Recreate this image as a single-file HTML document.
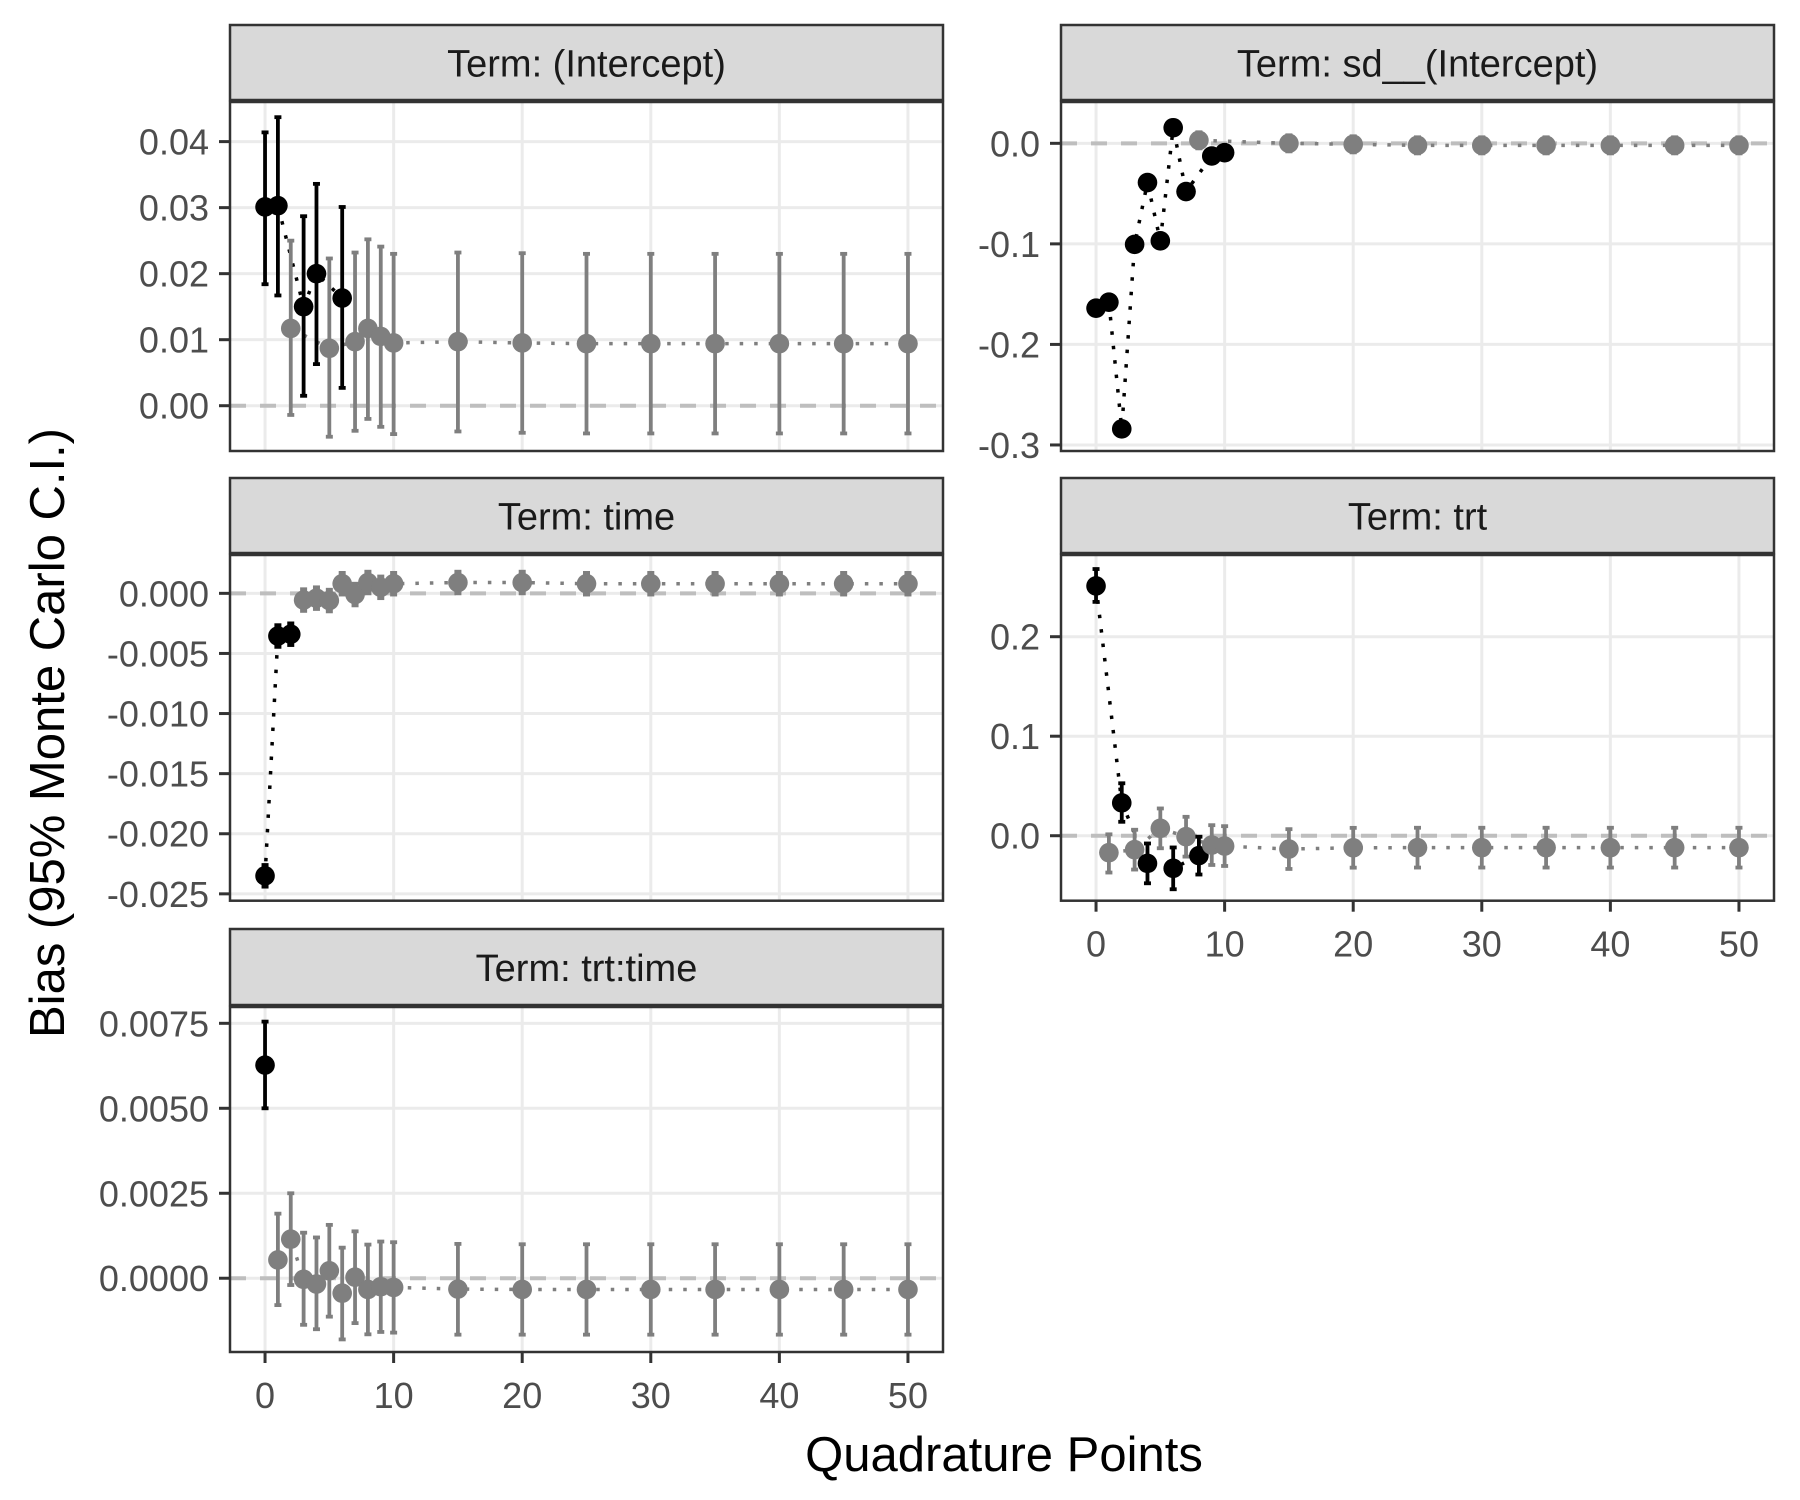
<!DOCTYPE html>
<html><head><meta charset="utf-8">
<style>
html,body{margin:0;padding:0;background:#fff;}
svg{display:block;font-family:"Liberation Sans",Arial,sans-serif;}
</style></head>
<body>
<svg id="chart" width="1800" height="1500" viewBox="0 0 1800 1500">
<text x="1004" y="1471" font-size="49" text-anchor="middle" fill="#000">Quadrature Points</text>
<text transform="translate(64,733) rotate(-90)" font-size="49" text-anchor="middle" fill="#000">Bias (95% Monte Carlo C.I.)</text>
</svg>
<script>
const xPoints = [0,1,2,3,4,5,6,7,8,9,10,15,20,25,30,35,40,45,50];
const xTicks = [0,10,20,30,40,50];

const interceptEst = [0.0301,0.0303,0.0117,0.0150,0.0200,0.0087,0.0163,0.0097,0.0117,0.0105,0.0095,0.0097,0.0095,0.0094,0.0094,0.0094,0.0094,0.0094,0.0094];
const interceptLo  = [0.0184,0.0167,-0.0014,0.0015,0.0063,-0.0047,0.0027,-0.0038,-0.0020,-0.0032,-0.0043,-0.0039,-0.0041,-0.0042,-0.0042,-0.0042,-0.0042,-0.0042,-0.0042];
const interceptHi  = [0.0414,0.0437,0.0250,0.0287,0.0336,0.0223,0.0301,0.0232,0.0252,0.0241,0.0230,0.0232,0.0231,0.0230,0.0230,0.0230,0.0230,0.0230,0.0230];
const interceptTicks = [0.00,0.01,0.02,0.03,0.04];
const interceptTickLabels = ["0.00","0.01","0.02","0.03","0.04"];

const sdEst = [-0.164,-0.158,-0.284,-0.1005,-0.039,-0.097,0.0155,-0.048,0.003,-0.0126,-0.0093,0.000,-0.001,-0.002,-0.002,-0.002,-0.002,-0.002,-0.002];
const sdLo  = [-0.169,-0.163,-0.289,-0.1055,-0.044,-0.102,0.0105,-0.053,-0.005,-0.0176,-0.0143,-0.008,-0.009,-0.010,-0.010,-0.010,-0.010,-0.010,-0.010];
const sdHi  = [-0.159,-0.153,-0.279,-0.0955,-0.034,-0.092,0.0205,-0.043,0.011,-0.0076,-0.0043,0.008,0.007,0.006,0.006,0.006,0.006,0.006,0.006];
const sdTicks = [0.0,-0.1,-0.2,-0.3];
const sdTickLabels = ["0.0","-0.1","-0.2","-0.3"];

const timeEst = [-0.0235,-0.00355,-0.0034,-0.00056,-0.0004,-0.0006,0.0008,-0.0001,0.0009,0.0005,0.0008,0.0009,0.0009,0.0008,0.0008,0.0008,0.0008,0.0008,0.0008];
const timeLo  = [-0.0244,-0.00445,-0.0043,-0.00146,-0.0013,-0.0015,-0.0001,-0.0010,0.0000,-0.0004,-0.0001,0.0000,0.0000,-0.0001,-0.0001,-0.0001,-0.0001,-0.0001,-0.0001];
const timeHi  = [-0.0226,-0.00265,-0.0025,0.00034,0.0005,0.0003,0.0017,0.0008,0.0018,0.0014,0.0017,0.0018,0.0018,0.0017,0.0017,0.0017,0.0017,0.0017,0.0017];
const timeTicks = [0.000,-0.005,-0.010,-0.015,-0.020,-0.025];
const timeTickLabels = ["0.000","-0.005","-0.010","-0.015","-0.020","-0.025"];

const trtEst = [0.251,-0.017,0.033,-0.014,-0.0278,0.0074,-0.0328,-0.001,-0.020,-0.0094,-0.0104,-0.0134,-0.0121,-0.012,-0.012,-0.012,-0.012,-0.012,-0.012];
const trtLo  = [0.235,-0.037,0.014,-0.034,-0.0478,-0.0126,-0.0538,-0.021,-0.039,-0.0294,-0.0304,-0.0334,-0.0321,-0.032,-0.032,-0.032,-0.032,-0.032,-0.032];
const trtHi  = [0.268,0.0014,0.0527,0.006,-0.0078,0.0274,-0.0118,0.019,-0.001,0.0106,0.0096,0.0066,0.0079,0.008,0.008,0.008,0.008,0.008,0.008];
const trtTicks = [0.0,0.1,0.2];
const trtTickLabels = ["0.0","0.1","0.2"];

const ttEst = [0.00627,0.00054,0.00115,-0.00003,-0.00017,0.00022,-0.00044,0.00003,-0.00033,-0.00025,-0.00027,-0.00032,-0.00033,-0.00033,-0.00033,-0.00033,-0.00033,-0.00033,-0.00033];
const ttLo  = [0.00500,-0.00079,-0.00020,-0.00137,-0.00150,-0.00113,-0.00180,-0.00132,-0.00165,-0.00158,-0.00160,-0.00166,-0.00166,-0.00166,-0.00166,-0.00166,-0.00166,-0.00166,-0.00166];
const ttHi  = [0.00755,0.00190,0.00250,0.00134,0.00120,0.00157,0.00090,0.00138,0.00099,0.00108,0.00106,0.00101,0.00100,0.00100,0.00100,0.00100,0.00100,0.00100,0.00100];
const ttTicks = [0.0000,0.0025,0.0050,0.0075];
const ttTickLabels = ["0.0000","0.0025","0.0050","0.0075"];

const NS = "http://www.w3.org/2000/svg";
const svg = document.getElementById("chart");
function mk(tag, attrs, parent){
  const e = document.createElementNS(NS, tag);
  for (const k in attrs) e.setAttribute(k, attrs[k]);
  (parent||svg).appendChild(e);
  return e;
}
const panels = [
  {title:"Term: (Intercept)", key:"intercept", L:230, R:943, T:102, B:451, stripT:25, ymin:-0.00686, ymax:0.046, est:interceptEst, lo:interceptLo, hi:interceptHi, ticks:interceptTicks, labels:interceptTickLabels, xaxis:false},
  {title:"Term: sd__(Intercept)", key:"sd", L:1061, R:1774, T:102, B:451, stripT:25, ymin:-0.306, ymax:0.0411, est:sdEst, lo:sdLo, hi:sdHi, ticks:sdTicks, labels:sdTickLabels, xaxis:false},
  {title:"Term: time", key:"time", L:230, R:943, T:555, B:900.7, stripT:478, ymin:-0.02557, ymax:0.00319, est:timeEst, lo:timeLo, hi:timeHi, ticks:timeTicks, labels:timeTickLabels, xaxis:false},
  {title:"Term: trt", key:"trt", L:1061, R:1774, T:555, B:900.7, stripT:478, ymin:-0.0653, ymax:0.2821, est:trtEst, lo:trtLo, hi:trtHi, ticks:trtTicks, labels:trtTickLabels, xaxis:true},
  {title:"Term: trt:time", key:"trt-time", L:230, R:943, T:1007, B:1352, stripT:929, ymin:-0.00217, ymax:0.00798, est:ttEst, lo:ttLo, hi:ttHi, ticks:ttTicks, labels:ttTickLabels, xaxis:true}
];
const XMIN=-2.725, XMAX=52.725;
panels.forEach(p=>{
  const g = mk("g",{});
  
  
  const xs = v => p.L + (v-XMIN)/(XMAX-XMIN)*(p.R-p.L);
  const ys = v => p.B - (v-p.ymin)/(p.ymax-p.ymin)*(p.B-p.T);
  const st = mk("rect",{x:p.L,y:p.stripT,width:p.R-p.L,height:p.T-p.stripT-2,fill:"#d9d9d9",stroke:"#333","stroke-width":2.5},g);
  
  
  const stt = mk("text",{x:(p.L+p.R)/2,y:(p.stripT+p.T)/2+13,"font-size":38,"text-anchor":"middle",fill:"#1a1a1a"},g);
  stt.textContent = p.title;
  
  
  mk("rect",{x:p.L,y:p.T,width:p.R-p.L,height:p.B-p.T,fill:"#fff"},g);
  xTicks.forEach(t=>{ const l=mk("line",{x1:xs(t),x2:xs(t),y1:p.T,y2:p.B,stroke:"#ebebeb","stroke-width":3},g);
      });
  p.ticks.forEach((t,i)=>{
    const y=ys(t);
    const l=mk("line",{x1:p.L,x2:p.R,y1:y,y2:y,stroke:"#ebebeb","stroke-width":3},g);
     
    mk("line",{x1:p.L-11,x2:p.L,y1:y,y2:y,stroke:"#333","stroke-width":3},g);
    const tx=mk("text",{x:p.L-21,y:y+13,"font-size":36,"text-anchor":"end",fill:"#4d4d4d"},g);
    tx.textContent=p.labels[i];
     
  });
  const z=mk("line",{x1:p.L,x2:p.R,y1:ys(0),y2:ys(0),stroke:"#bebebe","stroke-width":4,"stroke-dasharray":"16 14"},g);
   
  const isSig = i => (p.lo[i]>0 || p.hi[i]<0);
  [true,false].forEach(flag=>{
    const idx = xPoints.map((_,i)=>i).filter(i=>isSig(i)===flag);
    if(idx.length<2) return;
    const d = idx.map((i,k)=>(k?"L":"M")+xs(xPoints[i]).toFixed(2)+","+ys(p.est[i]).toFixed(2)).join(" ");
    const s=mk("path",{d:d,fill:"none",stroke:flag?"#000":"#7f7f7f","stroke-width":3.5,"stroke-dasharray":"3.5 11"},g);
    
    
  });
  xPoints.forEach((xv,i)=>{
    const c=isSig(i)?"#000":"#7f7f7f", x=xs(xv);
    const e=mk("line",{x1:x,x2:x,y1:ys(p.lo[i]),y2:ys(p.hi[i]),stroke:c,"stroke-width":3.8},g);
     
    mk("line",{x1:x-3.5,x2:x+3.5,y1:ys(p.lo[i]),y2:ys(p.lo[i]),stroke:c,"stroke-width":3.8},g);
    mk("line",{x1:x-3.5,x2:x+3.5,y1:ys(p.hi[i]),y2:ys(p.hi[i]),stroke:c,"stroke-width":3.8},g);
    const pt=mk("circle",{cx:x,cy:ys(p.est[i]),r:9.8,fill:c},g);
     
  });
  mk("rect",{x:p.L,y:p.T,width:p.R-p.L,height:p.B-p.T,fill:"none",stroke:"#333","stroke-width":2.5},g);
  if(p.xaxis){
    xTicks.forEach(t=>{
      mk("line",{x1:xs(t),x2:xs(t),y1:p.B,y2:p.B+11,stroke:"#333","stroke-width":3},g);
      const tx=mk("text",{x:xs(t),y:p.B+56,"font-size":36,"text-anchor":"middle",fill:"#4d4d4d"},g);
      tx.textContent=String(t);
       
    });
  }
});
</script>
</body></html>
